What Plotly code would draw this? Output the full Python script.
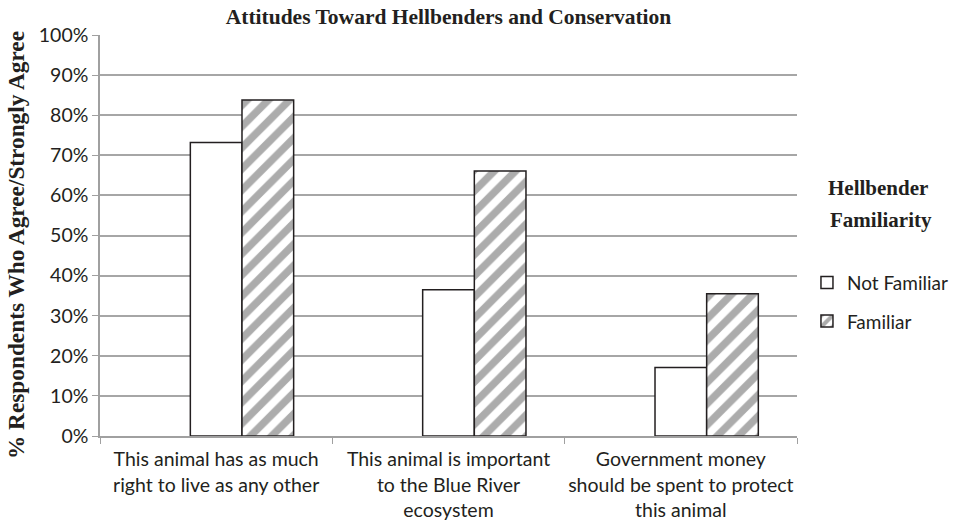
import plotly.graph_objects as go

categories = [
    "This animal has as much<br>right to live as any other",
    "This animal is important<br>to the Blue River<br>ecosystem",
    "Government money<br>should be spent to protect<br>this animal",
]
not_familiar = [0.732, 0.365, 0.171]
familiar = [0.838, 0.661, 0.355]
empty_series = [None, None, None]
tick_vals = [i / 10 for i in range(11)]
tick_text = [f"{i * 10}%" for i in range(11)]

fig = go.Figure()
fig.add_trace(go.Bar(x=categories, y=empty_series, showlegend=False,
                     marker=dict(color="white"), hoverinfo="skip"))
fig.add_trace(go.Bar(x=categories, y=not_familiar, name="Not Familiar",
                     legendgroup="a",
                     marker=dict(color="white", line=dict(color="#231f20", width=1.5))))
fig.add_trace(go.Bar(x=categories, y=familiar, name="Familiar",
                     legendgroup="b",
                     marker=dict(color="white", line=dict(color="#231f20", width=1.5),
                                 pattern=dict(shape="/", fgcolor="#5a5a5a", bgcolor="white",
                                              size=15, solidity=0.5))))

fig.update_layout(
    width=958, height=521,
    margin=dict(l=100, r=161, t=35, b=85, autoexpand=False),
    paper_bgcolor="white", plot_bgcolor="white",
    barmode="group", bargap=0.333, bargroupgap=0,
    title=dict(text="<b>Attitudes Toward Hellbenders and Conservation</b>",
               x=(448.5) / 958, xanchor="center", y=1 - 16 / 521, yanchor="middle",
               font=dict(family="Liberation Serif", size=21.5, color="#231f20")),
    font=dict(family="Lato", size=19, color="#231f20"),
    legend=dict(x=1.0143, xanchor="left", y=0.43, yanchor="top",
                font=dict(family="Lato", size=19, color="#231f20"),
                tracegroupgap=11, traceorder="grouped", bgcolor="rgba(0,0,0,0)"),
    showlegend=True,
)
fig.update_xaxes(showline=True, linecolor="#a0a0a0", linewidth=1.5, automargin=False,
                 tickangle=0, ticklabelstandoff=5,
                 ticks="outside", tickson="boundaries", ticklen=6, tickcolor="#a0a0a0",
                 tickfont=dict(family="Lato", size=19.5, color="#231f20"))
fig.update_yaxes(range=[0, 1.0], tickvals=tick_vals, ticktext=tick_text, automargin=False,
                 showline=True, linecolor="#a0a0a0", linewidth=1.5,
                 ticks="outside", ticklen=6, tickcolor="#a0a0a0",
                 showgrid=True, gridcolor="#a6a6a6", gridwidth=1.5,
                 zeroline=False,
                 tickfont=dict(family="Lato", size=19.5, color="#231f20"))
fig.add_annotation(text="<b>% Respondents Who Agree/Strongly Agree</b>", textangle=-90,
                   xref="paper", yref="paper", x=(16 - 100) / 697, y=(436 - 245) / 401,
                   xanchor="center", yanchor="middle", showarrow=False,
                   font=dict(family="Liberation Serif", size=23.3, color="#231f20"))
fig.add_annotation(text="<b>Hellbender</b>", xref="paper", yref="paper",
                   x=(878 - 100) / 697, y=(436 - 188) / 401, xanchor="center", yanchor="middle",
                   showarrow=False,
                   font=dict(family="Liberation Serif", size=21, color="#231f20"))
fig.add_annotation(text="<b>Familiarity</b>", xref="paper", yref="paper",
                   x=(881 - 100) / 697, y=(436 - 220) / 401, xanchor="center", yanchor="middle",
                   showarrow=False,
                   font=dict(family="Liberation Serif", size=21, color="#231f20"))

fig.write_html("out.html")
